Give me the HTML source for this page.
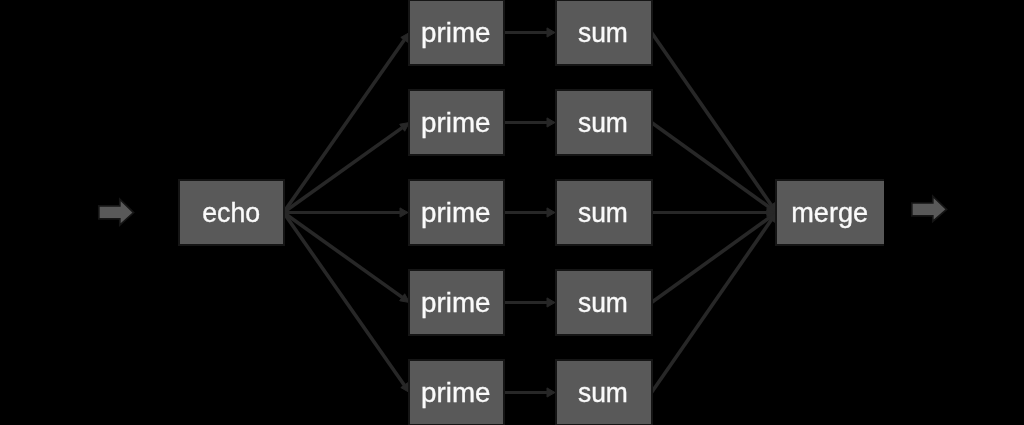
<!DOCTYPE html>
<html><head><meta charset="utf-8"><style>
html,body{margin:0;padding:0;background:#000;width:1024px;height:425px;overflow:hidden}
svg{display:block;will-change:transform}
text{font-family:"Liberation Sans",sans-serif}
</style></head><body>
<svg width="1024" height="425" viewBox="0 0 1024 425">
<rect width="1024" height="425" fill="#000"/>
<line x1="283.5" y1="212.5" x2="404.91" y2="39.05" stroke="#272727" stroke-width="3.6"/><polygon points="409.50,32.50 407.86,42.34 400.82,37.41" fill="#272727" stroke="#272727" stroke-width="1" stroke-linejoin="round"/>
<line x1="283.5" y1="212.5" x2="402.99" y2="127.15" stroke="#272727" stroke-width="3.6"/><polygon points="409.50,122.50 404.68,131.23 399.68,124.23" fill="#272727" stroke="#272727" stroke-width="1" stroke-linejoin="round"/>
<line x1="285" y1="212.5" x2="401.00" y2="212.50" stroke="#272727" stroke-width="3.0"/><polygon points="408.00,212.50 400.00,217.10 400.00,207.90" fill="#272727" stroke="#272727" stroke-width="1" stroke-linejoin="round"/>
<line x1="283.5" y1="212.5" x2="402.99" y2="297.85" stroke="#272727" stroke-width="3.6"/><polygon points="409.50,302.50 399.68,300.77 404.68,293.77" fill="#272727" stroke="#272727" stroke-width="1" stroke-linejoin="round"/>
<line x1="283.5" y1="212.5" x2="404.91" y2="385.95" stroke="#272727" stroke-width="3.6"/><polygon points="409.50,392.50 400.82,387.59 407.86,382.66" fill="#272727" stroke="#272727" stroke-width="1" stroke-linejoin="round"/>
<line x1="505" y1="32.5" x2="548.00" y2="32.50" stroke="#272727" stroke-width="3.0"/><polygon points="555.00,32.50 547.00,37.10 547.00,27.90" fill="#272727" stroke="#272727" stroke-width="1" stroke-linejoin="round"/>
<line x1="505" y1="122.5" x2="548.00" y2="122.50" stroke="#272727" stroke-width="3.0"/><polygon points="555.00,122.50 547.00,127.10 547.00,117.90" fill="#272727" stroke="#272727" stroke-width="1" stroke-linejoin="round"/>
<line x1="505" y1="212.5" x2="548.00" y2="212.50" stroke="#272727" stroke-width="3.0"/><polygon points="555.00,212.50 547.00,217.10 547.00,207.90" fill="#272727" stroke="#272727" stroke-width="1" stroke-linejoin="round"/>
<line x1="505" y1="302.5" x2="548.00" y2="302.50" stroke="#272727" stroke-width="3.0"/><polygon points="555.00,302.50 547.00,307.10 547.00,297.90" fill="#272727" stroke="#272727" stroke-width="1" stroke-linejoin="round"/>
<line x1="505" y1="392.5" x2="548.00" y2="392.50" stroke="#272727" stroke-width="3.0"/><polygon points="555.00,392.50 547.00,397.10 547.00,387.90" fill="#272727" stroke="#272727" stroke-width="1" stroke-linejoin="round"/>
<line x1="651.5" y1="32.5" x2="771.94" y2="205.93" stroke="#272727" stroke-width="3.6"/><polygon points="776.50,212.50 767.83,207.56 774.90,202.65" fill="#272727" stroke="#272727" stroke-width="1" stroke-linejoin="round"/>
<line x1="651.5" y1="122.5" x2="770.01" y2="207.83" stroke="#272727" stroke-width="3.6"/><polygon points="776.50,212.50 766.68,210.73 771.71,203.75" fill="#272727" stroke="#272727" stroke-width="1" stroke-linejoin="round"/>
<line x1="653" y1="212.5" x2="768.00" y2="212.50" stroke="#272727" stroke-width="3.0"/><polygon points="775.00,212.50 767.00,217.10 767.00,207.90" fill="#272727" stroke="#272727" stroke-width="1" stroke-linejoin="round"/>
<line x1="651.5" y1="302.5" x2="770.01" y2="217.17" stroke="#272727" stroke-width="3.6"/><polygon points="776.50,212.50 771.71,221.25 766.68,214.27" fill="#272727" stroke="#272727" stroke-width="1" stroke-linejoin="round"/>
<line x1="651.5" y1="392.5" x2="771.94" y2="219.07" stroke="#272727" stroke-width="3.6"/><polygon points="776.50,212.50 774.90,222.35 767.83,217.44" fill="#272727" stroke="#272727" stroke-width="1" stroke-linejoin="round"/>
<rect x="409" y="0" width="95" height="65" fill="#595959" stroke="#151515" stroke-width="2"/><text x="455.74" y="41.7" font-size="27.3" text-anchor="middle" fill="#fafafa" stroke="#fafafa" stroke-width="0.35" transform="translate(455.74 0) scale(1.018 1) translate(-455.74 0)">prime</text>
<rect x="556" y="0" width="96" height="65" fill="#595959" stroke="#151515" stroke-width="2"/><text x="602.93" y="41.7" font-size="27.3" text-anchor="middle" fill="#fafafa" stroke="#fafafa" stroke-width="0.35" transform="translate(602.93 0) scale(0.969 1) translate(-602.93 0)">sum</text>
<rect x="409" y="90" width="95" height="65" fill="#595959" stroke="#151515" stroke-width="2"/><text x="455.74" y="131.7" font-size="27.3" text-anchor="middle" fill="#fafafa" stroke="#fafafa" stroke-width="0.35" transform="translate(455.74 0) scale(1.018 1) translate(-455.74 0)">prime</text>
<rect x="556" y="90" width="96" height="65" fill="#595959" stroke="#151515" stroke-width="2"/><text x="602.93" y="131.7" font-size="27.3" text-anchor="middle" fill="#fafafa" stroke="#fafafa" stroke-width="0.35" transform="translate(602.93 0) scale(0.969 1) translate(-602.93 0)">sum</text>
<rect x="409" y="180" width="95" height="65" fill="#595959" stroke="#151515" stroke-width="2"/><text x="455.74" y="221.7" font-size="27.3" text-anchor="middle" fill="#fafafa" stroke="#fafafa" stroke-width="0.35" transform="translate(455.74 0) scale(1.018 1) translate(-455.74 0)">prime</text>
<rect x="556" y="180" width="96" height="65" fill="#595959" stroke="#151515" stroke-width="2"/><text x="602.93" y="221.7" font-size="27.3" text-anchor="middle" fill="#fafafa" stroke="#fafafa" stroke-width="0.35" transform="translate(602.93 0) scale(0.969 1) translate(-602.93 0)">sum</text>
<rect x="409" y="270" width="95" height="65" fill="#595959" stroke="#151515" stroke-width="2"/><text x="455.74" y="311.7" font-size="27.3" text-anchor="middle" fill="#fafafa" stroke="#fafafa" stroke-width="0.35" transform="translate(455.74 0) scale(1.018 1) translate(-455.74 0)">prime</text>
<rect x="556" y="270" width="96" height="65" fill="#595959" stroke="#151515" stroke-width="2"/><text x="602.93" y="311.7" font-size="27.3" text-anchor="middle" fill="#fafafa" stroke="#fafafa" stroke-width="0.35" transform="translate(602.93 0) scale(0.969 1) translate(-602.93 0)">sum</text>
<rect x="409" y="360" width="95" height="65" fill="#595959" stroke="#151515" stroke-width="2"/><text x="455.74" y="401.7" font-size="27.3" text-anchor="middle" fill="#fafafa" stroke="#fafafa" stroke-width="0.35" transform="translate(455.74 0) scale(1.018 1) translate(-455.74 0)">prime</text>
<rect x="556" y="360" width="96" height="65" fill="#595959" stroke="#151515" stroke-width="2"/><text x="602.93" y="401.7" font-size="27.3" text-anchor="middle" fill="#fafafa" stroke="#fafafa" stroke-width="0.35" transform="translate(602.93 0) scale(0.969 1) translate(-602.93 0)">sum</text>
<rect x="179" y="180" width="105" height="65" fill="#595959" stroke="#151515" stroke-width="2"/><text x="231.25" y="221.7" font-size="27.3" text-anchor="middle" fill="#fafafa" stroke="#fafafa" stroke-width="0.35" transform="translate(231.25 0) scale(0.98 1) translate(-231.25 0)">echo</text>
<rect x="776" y="180" width="107" height="65" fill="#595959" stroke="#151515" stroke-width="2"/><rect x="882" y="181" width="2" height="63" fill="#595959"/><text x="829.68" y="221.7" font-size="27.3" text-anchor="middle" fill="#fafafa" stroke="#fafafa" stroke-width="0.35" transform="translate(829.68 0) scale(0.996 1) translate(-829.68 0)">merge</text>
<polygon points="98.8,205.8 119.8,205.8 119.8,199.2 133.6,212.6 119.8,225.1 119.8,218.8 98.8,218.8" fill="#595959" stroke="#151515" stroke-width="1.7" stroke-linejoin="miter"/>
<polygon points="911.8,203 932.8,203 932.8,196.2 946.6,209.5 932.8,221.5 932.8,215.9 911.8,215.9" fill="#595959" stroke="#151515" stroke-width="1.7" stroke-linejoin="miter"/>
</svg></body></html>
